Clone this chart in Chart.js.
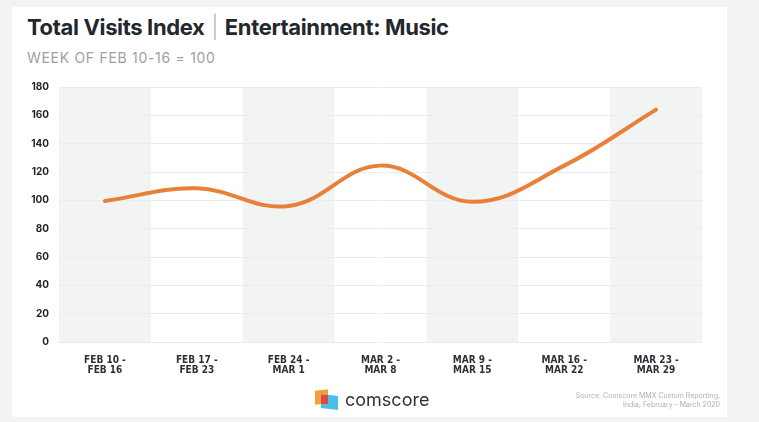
<!DOCTYPE html>
<html>
<head>
<meta charset="utf-8">
<script src="https://cdn.jsdelivr.net/npm/chart.js@4"></script>
<style>
  body { margin: 0; background: #f3f3f3; width: 759px; height: 422px; overflow: hidden; font-family: Inter, 'Open Sans', sans-serif; }
  #card { position: absolute; left: 12px; top: 7px; width: 715px; height: 410px; background: #fff; }
  #title { position: absolute; left: 27px; top: 14px; font-size: 22px; font-weight: 700; color: #23272e; letter-spacing: -0.35px; white-space: nowrap; }
  #title .sep { font-weight: 300; color: #b5b5b5; margin: 0 2px; }
  #sub { position: absolute; left: 27px; top: 49px; font-size: 14px; color: #a0a0a0; letter-spacing: 0.7px; white-space: nowrap; }
  #wrap { position: absolute; left: 12px; top: 70px; width: 715px; height: 320px; }
  #logo { position: absolute; left: 315px; top: 390px; width: 24px; height: 20px; }
  #logo div { position: absolute; }
  #brand { position: absolute; left: 345px; top: 389px; font-size: 18px; color: #2f3135; font-family: Inter, sans-serif; letter-spacing: 0px; }
  #src { position: absolute; right: 39px; top: 391px; font-size: 7px; line-height: 9px; color: #b0b0b0; text-align: right; }
</style>
</head>
<body>
<div id="card"></div>
<div id="title">Total Visits Index <span class="sep">|</span> Entertainment: Music</div>
<div id="sub">WEEK OF FEB 10-16 = 100</div>
<div id="wrap"><canvas id="myChart"></canvas></div>
<div id="logo">
  <div style="left:0;top:0;width:13px;height:14px;background:#f3a13b;transform:skewY(-6deg);"></div>
  <div style="left:6px;top:5px;width:17px;height:14px;background:#4cbde6;transform:skewY(6deg);"></div>
  <div style="left:6px;top:5px;width:7px;height:9px;background:#e2483b;"></div>
</div>
<div id="brand">comscore</div>
<div id="src">Source: Comscore MMX Custom Reporting,<br>India, February - March 2020</div>
<script>
const weeks = [
  ['FEB 10 -', 'FEB 16'],
  ['FEB 17 -', 'FEB 23'],
  ['FEB 24 -', 'MAR 1'],
  ['MAR 2 -', 'MAR 8'],
  ['MAR 9 -', 'MAR 15'],
  ['MAR 16 -', 'MAR 22'],
  ['MAR 23 -', 'MAR 29']
];
const visitsIndex = [99.5, 108.5, 96, 124.5, 99, 124.5, 164];
const yTicks = [0, 20, 40, 60, 80, 100, 120, 140, 160, 180];

// grey bands behind every other week
const bandPlugin = {
  id: 'bands',
  beforeDraw(chart) {
    const { ctx, chartArea, scales } = chart;
    const x = scales.x;
    const half = (x.getPixelForValue(1) - x.getPixelForValue(0)) / 2;
    ctx.save();
    ctx.fillStyle = '#f2f3f3';
    for (let i = 0; i < weeks.length; i += 2) {
      const c = x.getPixelForValue(i);
      ctx.fillRect(c - half, chartArea.top, half * 2, chartArea.bottom - chartArea.top);
    }
    ctx.restore();
  }
};

const ctx = document.getElementById('myChart');
new Chart(ctx, {
  type: 'line',
  data: {
    labels: weeks,
    datasets: [{
      data: visitsIndex,
      borderColor: '#e8803a',
      borderWidth: 4,
      borderCapStyle: 'round',
      pointRadius: 0,
      tension: 0.4,
      fill: false
    }]
  },
  options: {
    responsive: true,
    maintainAspectRatio: false,
    animation: false,
    layout: { padding: { top: 17, right: 25, left: 0, bottom: 0 } },
    plugins: {
      legend: { display: false },
      tooltip: { enabled: false }
    },
    scales: {
      x: {
        offset: true,
        grid: { display: false },
        border: { display: false },
        ticks: {
          color: '#2e3035',
          font: { family: "'DejaVu Sans Condensed', Roboto, sans-serif", size: 10, weight: 'bold', lineHeight: 1.05 },
          padding: 5,
          maxRotation: 0
        },
        afterFit(scale) { scale.height = 48; }
      },
      y: {
        min: 0,
        max: 180,
        afterBuildTicks(scale) { scale.ticks = yTicks.map(v => ({ value: v })); },
        grid: { color: '#ececec', lineWidth: 1, drawTicks: false },
        border: { display: false },
        ticks: {
          color: '#1f2126',
          font: { family: 'Inter', size: 10, weight: 'bold' },
          padding: 10
        },
        afterFit(scale) { scale.width = 47; }
      }
    }
  },
  plugins: [bandPlugin]
});
</script>
</body>
</html>
